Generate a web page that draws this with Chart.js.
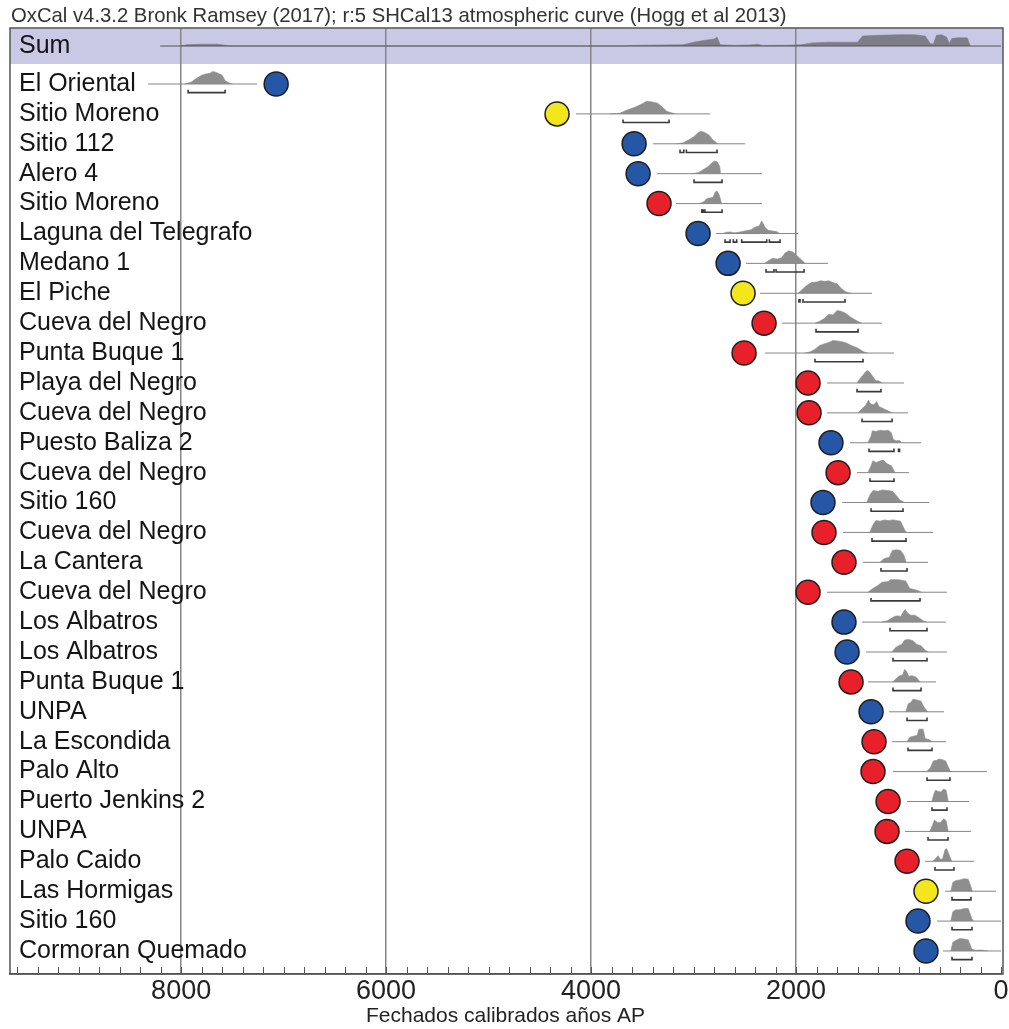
<!DOCTYPE html>
<html>
<head>
<meta charset="utf-8">
<script src="https://cdn.jsdelivr.net/npm/chart.js@4.4.1/dist/chart.umd.min.js"></script>
<style>
  html, body { margin: 0; padding: 0; background: #fff; }
  canvas { display: block; }
</style>
</head>
<body>
<canvas id="oxcal-chart" width="1009" height="1029"></canvas>
<script>
const titleText = 'OxCal v4.3.2 Bronk Ramsey (2017); r:5 SHCal13 atmospheric curve (Hogg et al 2013)';
const axisTitle = 'Fechados calibrados años AP';

const siteLabels = [
    'El Oriental', 'Sitio Moreno', 'Sitio 112', 'Alero 4', 'Sitio Moreno',
    'Laguna del Telegrafo', 'Medano 1', 'El Piche', 'Cueva del Negro', 'Punta Buque 1',
    'Playa del Negro', 'Cueva del Negro', 'Puesto Baliza 2', 'Cueva del Negro', 'Sitio 160',
    'Cueva del Negro', 'La Cantera', 'Cueva del Negro', 'Los Albatros', 'Los Albatros',
    'Punta Buque 1', 'UNPA', 'La Escondida', 'Palo Alto', 'Puerto Jenkins 2',
    'UNPA', 'Palo Caido', 'Las Hormigas', 'Sitio 160', 'Cormoran Quemado'
];

// circle markers (cal BP) and their colour group
const circleAge = [
    7073, 4332, 3580, 3541, 3337, 2956, 2663, 2517, 2312, 2507,
    1883, 1873, 1659, 1590, 1737, 1727, 1532, 1883, 1532, 1502,
    1463, 1268, 1239, 1249, 1102, 1112, 917, 732, 810, 732
];
const circleGroup = [
    'B', 'Y', 'B', 'B', 'R', 'B', 'B', 'Y', 'R', 'R',
    'R', 'R', 'B', 'R', 'B', 'R', 'R', 'R', 'B', 'B',
    'R', 'B', 'R', 'R', 'R', 'R', 'R', 'Y', 'B', 'B'
];

// thin line under each distribution (from, to)
const lineFrom = [
    8322, 4146, 3395, 3356, 3171, 2780, 2488, 2351, 2137, 2302,
    1698, 1698, 1473, 1405, 1551, 1541, 1346, 1698, 1356, 1317,
    1298, 1093, 1063, 1054, 917, 937, 741, 546, 624, 566
];
const lineTo = [
    7259, 2839, 2497, 2332, 2332, 1981, 1688, 1259, 1161, 1044,
    946, 907, 780, 898, 702, 663, 712, 527, 537, 527,
    634, 556, 537, 137, 312, 293, 263, 49, 0, 0
];

// 95.4% ranges drawn as brackets
const ranges = [
    [[7932, 7571]], [[3688, 3239]], [[3132, 3095], [3070, 2771]], [[2995, 2722]], [[2920, 2905], [2890, 2722]],
    [[2693, 2644], [2612, 2579], [2530, 2286], [2260, 2156]], [[2293, 2215], [2195, 1922]], [[1971, 1961], [1932, 1522]], [[1805, 1395]], [[1815, 1346]],
    [[1405, 1171]], [[1356, 1063]], [[1288, 1044], [1000, 990]], [[1278, 1044]], [[1268, 956]],
    [[1259, 927]], [[1171, 917]], [[1268, 790]], [[1083, 722]], [[1054, 722]],
    [[1054, 780]], [[917, 722]], [[907, 673]], [[722, 498]], [[673, 527]],
    [[712, 517]], [[644, 459]], [[478, 293]], [[478, 283]], [[478, 283]]
];

// probability profiles: [cal BP, relative height]
const profiles = [
    [[7965, 0], [7900, 0.15], [7850, 0.45], [7800, 0.7], [7760, 0.8], [7720, 0.85], [7690, 1], [7650, 0.9], [7600, 0.7], [7570, 0.25], [7530, 0.08], [7500, 0]],
    [[3815, 0], [3720, 0.05], [3650, 0.3], [3580, 0.5], [3500, 0.8], [3460, 1], [3400, 0.95], [3350, 0.85], [3300, 0.5], [3260, 0.2], [3200, 0.05], [3180, 0]],
    [[3165, 0], [3100, 0.08], [3050, 0.3], [3000, 0.55], [2960, 0.85], [2930, 1], [2890, 0.9], [2850, 0.7], [2810, 0.3], [2770, 0.05], [2760, 0]],
    [[3010, 0], [2950, 0.1], [2900, 0.35], [2860, 0.55], [2830, 0.8], [2800, 1], [2770, 0.95], [2745, 0.6], [2735, 0]],
    [[2940, 0], [2900, 0.15], [2870, 0.4], [2840, 0.45], [2810, 0.5], [2790, 0.9], [2770, 1], [2750, 0.7], [2730, 0.1], [2720, 0]],
    [[2712, 0], [2680, 0.1], [2640, 0.12], [2600, 0.05], [2560, 0.1], [2500, 0.2], [2440, 0.3], [2400, 0.5], [2360, 0.6], [2335, 1], [2300, 0.45], [2270, 0.25], [2230, 0.2], [2190, 0.15], [2160, 0]],
    [[2305, 0], [2270, 0.2], [2230, 0.4], [2180, 0.35], [2140, 0.45], [2110, 0.8], [2070, 1], [2030, 0.9], [1990, 0.6], [1950, 0.3], [1912, 0]],
    [[1980, 0], [1940, 0.3], [1900, 0.6], [1850, 0.85], [1800, 0.9], [1760, 1], [1720, 0.95], [1680, 1], [1640, 0.85], [1600, 0.75], [1560, 0.4], [1520, 0.15], [1490, 0.05], [1460, 0]],
    [[1815, 0], [1770, 0.15], [1720, 0.4], [1680, 0.7], [1640, 0.65], [1600, 1], [1560, 0.95], [1520, 0.8], [1470, 0.5], [1420, 0.25], [1380, 0.08], [1356, 0]],
    [[1915, 0], [1860, 0.1], [1815, 0.3], [1770, 0.6], [1720, 0.75], [1680, 0.85], [1640, 1], [1580, 0.95], [1520, 0.85], [1460, 0.6], [1400, 0.4], [1340, 0.1], [1300, 0]],
    [[1405, 0], [1380, 0.3], [1350, 0.6], [1320, 0.9], [1300, 1], [1280, 0.85], [1250, 0.5], [1220, 0.15], [1200, 0.2], [1170, 0.05], [1160, 0]],
    [[1395, 0], [1360, 0.3], [1320, 0.6], [1295, 1], [1270, 0.7], [1240, 0.65], [1215, 0.9], [1190, 0.5], [1150, 0.35], [1100, 0.15], [1060, 0]],
    [[1300, 0], [1270, 0.5], [1255, 0.95], [1220, 0.9], [1180, 1], [1140, 0.95], [1100, 1], [1070, 0.8], [1050, 0.25], [1020, 0.15], [990, 0.2], [970, 0]],
    [[1300, 0], [1270, 0.5], [1250, 0.95], [1220, 0.8], [1190, 0.9], [1150, 1], [1110, 0.7], [1070, 0.55], [1040, 0.1], [1034, 0]],
    [[1310, 0], [1280, 0.6], [1250, 0.95], [1200, 0.9], [1160, 1], [1100, 0.95], [1060, 0.9], [1020, 0.55], [985, 0.2], [940, 0]],
    [[1280, 0], [1250, 0.6], [1220, 0.95], [1180, 0.9], [1140, 1], [1100, 0.95], [1050, 1], [980, 0.9], [940, 0.2], [920, 0]],
    [[1180, 0], [1150, 0.25], [1120, 0.35], [1090, 0.4], [1060, 0.95], [1020, 1], [980, 0.95], [950, 0.6], [925, 0]],
    [[1300, 0], [1250, 0.3], [1200, 0.55], [1160, 0.8], [1100, 0.85], [1080, 1], [1000, 1], [930, 0.9], [890, 0.3], [840, 0.2], [800, 0.1], [775, 0]],
    [[1165, 0], [1110, 0.1], [1080, 0.25], [1040, 0.45], [1010, 0.5], [980, 0.45], [950, 0.85], [935, 1], [910, 0.7], [880, 0.55], [840, 0.55], [800, 0.35], [760, 0.1], [725, 0]],
    [[1065, 0], [1030, 0.35], [1000, 0.5], [970, 0.6], [940, 0.95], [900, 1], [860, 0.9], [820, 0.6], [780, 0.5], [740, 0.15], [710, 0]],
    [[1055, 0], [1020, 0.3], [990, 0.5], [960, 0.55], [940, 1], [920, 0.8], [900, 0.45], [870, 0.5], [830, 0.4], [800, 0.1], [790, 0]],
    [[930, 0], [905, 0.65], [880, 0.75], [860, 1], [820, 0.95], [780, 0.85], [755, 0.4], [715, 0]],
    [[917, 0], [890, 0.35], [850, 0.45], [820, 0.5], [800, 1], [760, 1], [740, 0.25], [700, 0.15], [673, 0]],
    [[725, 0], [690, 0.3], [660, 0.85], [630, 0.9], [600, 1], [570, 0.95], [540, 0.85], [510, 0.3], [495, 0]],
    [[675, 0], [655, 0.6], [640, 0.9], [610, 0.8], [585, 0.75], [560, 1], [535, 0.9], [515, 0]],
    [[695, 0], [670, 0.45], [650, 0.9], [620, 0.7], [590, 0.7], [560, 1], [535, 0.85], [515, 0]],
    [[665, 0], [635, 0.25], [615, 0.45], [590, 0.15], [570, 0.2], [545, 0.95], [530, 1], [505, 0.5], [480, 0]],
    [[490, 0], [470, 0.7], [440, 0.85], [400, 0.9], [360, 1], [320, 0.95], [290, 0.3], [280, 0]],
    [[490, 0], [470, 0.75], [440, 0.9], [400, 0.9], [360, 1], [320, 1], [285, 0.2], [270, 0]],
    [[490, 0], [470, 0.7], [440, 0.85], [400, 1], [360, 0.95], [320, 0.9], [285, 0.15], [250, 0.05], [200, 0.08], [150, 0.03], [130, 0]]
];

// summed probability at the top
const sumProfile = [
    [8000, 0], [7950, 0.1], [7800, 0.15], [7650, 0.15], [7550, 0.05], [7500, 0],
    [3700, 0], [3600, 0.05], [3300, 0.08], [3100, 0.1], [3000, 0.3], [2900, 0.45], [2800, 0.55], [2770, 0.7], [2740, 0.1],
    [2600, 0.05], [2450, 0.08], [2380, 0.15], [2330, 0.05], [2100, 0.06], [1950, 0.1], [1840, 0.25], [1700, 0.3], [1400, 0.3],
    [1350, 0.8], [1200, 0.85], [1000, 0.9], [850, 0.9], [740, 0.8], [690, 0.2], [660, 0.15], [630, 0.85], [580, 0.9],
    [530, 0.7], [505, 0.2], [480, 0.6], [420, 0.65], [330, 0.65], [300, 0]
];
const sumLine = [8205, 0];

const palette = { B: '#2656a6', R: '#e8202a', Y: '#f3e61a' };
const FONT = "'Liberation Sans', Arial, sans-serif";
const SUM_ROW = -1.27;
const PEAK = 0.42;      // row units for a relative height of 1
const X_MAX = 9670;

document.addEventListener('DOMContentLoaded', () => {
    const ctx = document.getElementById('oxcal-chart').getContext('2d');

    const datasets = [];

    // circles on top
    datasets.push({
        type: 'scatter',
        data: circleAge.map((a, i) => ({ x: a, y: i })),
        pointRadius: 12,
        pointBackgroundColor: circleGroup.map(g => palette[g]),
        pointBorderColor: '#1e1e1e',
        pointBorderWidth: 1.5,
        order: 0
    });

    // brackets, all in one dataset with gaps
    const bracketPts = [];
    ranges.forEach((rs, i) => {
        rs.forEach(([a, b]) => {
            bracketPts.push({ x: a, y: i + 0.19 }, { x: a, y: i + 0.29 }, { x: b, y: i + 0.29 }, { x: b, y: i + 0.19 }, { x: b, y: null });
        });
    });
    datasets.push({
        type: 'line', data: bracketPts, borderColor: '#3a3a3a', borderWidth: 1.6,
        pointRadius: 0, spanGaps: false, fill: false, order: 1
    });

    // baselines
    const basePts = [];
    siteLabels.forEach((_, i) => {
        basePts.push({ x: lineFrom[i], y: i }, { x: lineTo[i], y: i }, { x: lineTo[i], y: null });
    });
    datasets.push({
        type: 'line', data: basePts, borderColor: '#858585', borderWidth: 1,
        pointRadius: 0, spanGaps: false, fill: false, order: 2
    });
    datasets.push({
        type: 'line', data: [{ x: sumLine[0], y: SUM_ROW }, { x: sumLine[1], y: SUM_ROW }],
        borderColor: '#555', borderWidth: 1, pointRadius: 0, fill: false, order: 2
    });

    // distributions
    profiles.forEach((p, i) => {
        datasets.push({
            type: 'line',
            data: p.map(([x, h]) => ({ x: x, y: i - h * PEAK })),
            fill: { value: i },
            backgroundColor: '#8e8e8e',
            borderColor: '#8e8e8e',
            borderWidth: 0.6,
            pointRadius: 0,
            order: 3
        });
    });
    datasets.push({
        type: 'line',
        data: sumProfile.map(([x, h]) => ({ x: x, y: SUM_ROW - h * PEAK })),
        fill: { value: SUM_ROW },
        backgroundColor: '#7e7e86',
        borderColor: '#7e7e86',
        borderWidth: 0.6,
        pointRadius: 0,
        order: 3
    });

    const oxcalDecor = {
        id: 'oxcalDecor',
        beforeDraw(chart) {
            const { ctx, chartArea } = chart;
            const ys = chart.scales.y;
            ctx.save();
            ctx.fillStyle = '#c9c9e6';
            const bTop = chartArea.top;
            const bBot = ys.getPixelForValue(-0.67);
            ctx.fillRect(chartArea.left, bTop, chartArea.right - chartArea.left + 2, bBot - bTop);
            ctx.restore();
        },
        afterDraw(chart) {
            const { ctx, chartArea } = chart;
            const xs = chart.scales.x;
            const ys = chart.scales.y;
            ctx.save();
            // minor ticks inside the frame
            ctx.strokeStyle = '#555';
            ctx.lineWidth = 1;
            for (let v = 0; v <= 9600; v += 200) {
                const px = Math.round(xs.getPixelForValue(v)) + 0.5;
                ctx.beginPath();
                ctx.moveTo(px, chartArea.bottom);
                ctx.lineTo(px, chartArea.bottom - 7);
                ctx.stroke();
            }
            // frame
            ctx.strokeStyle = '#555';
            ctx.lineWidth = 1.5;
            ctx.strokeRect(chartArea.left, chartArea.top, chartArea.right - chartArea.left + 2, chartArea.bottom - chartArea.top);
            // row labels
            ctx.fillStyle = '#151515';
            ctx.font = '25px ' + FONT;
            ctx.textBaseline = 'middle';
            ctx.textAlign = 'left';
            ctx.fillText('Sum', chartArea.left + 9, ys.getPixelForValue(SUM_ROW));
            siteLabels.forEach((s, i) => {
                ctx.fillText(s, chartArea.left + 9, ys.getPixelForValue(i));
            });
            // header
            ctx.fillStyle = '#333';
            ctx.font = '20.3px ' + FONT;
            ctx.fillText(titleText, 11, 16);
            ctx.restore();
        }
    };

    new Chart(ctx, {
        type: 'scatter',
        data: { datasets: datasets },
        options: {
            responsive: false,
            devicePixelRatio: 1,
            animation: false,
            layout: { autoPadding: false, padding: { top: 28, left: 10, right: 8, bottom: 0 } },
            plugins: { legend: { display: false }, tooltip: { enabled: false } },
            elements: { line: { tension: 0 } },
            scales: {
                x: {
                    type: 'linear',
                    min: 0,
                    max: X_MAX,
                    reverse: true,
                    afterFit: scale => {
                        scale.paddingLeft = 0;
                        scale.paddingRight = 0;
                        scale.height = 55;
                    },
                    ticks: {
                        stepSize: 200,
                        autoSkip: false,
                        maxRotation: 0,
                        padding: 4.7,
                        color: '#222',
                        font: { family: FONT, size: 27, lineHeight: 0.95 },
                        callback: v => (v % 2000 === 0 && v <= 8000) ? String(v) : ''
                    },
                    grid: {
                        drawTicks: false,
                        lineWidth: 1.5,
                        color: c => (c.tick && c.tick.value % 2000 === 0 && c.tick.value > 0 && c.tick.value < 9000) ? '#858585' : 'rgba(0,0,0,0)'
                    },
                    border: { display: true, color: '#555', width: 1.5 },
                    title: {
                        display: true,
                        text: axisTitle,
                        color: '#222',
                        font: { family: FONT, size: 21, lineHeight: 0.9 },
                        padding: { top: 0, bottom: 3.5 }
                    }
                },
                y: {
                    type: 'linear',
                    display: false,
                    min: -1.873,
                    max: 29.77,
                    reverse: true
                }
            }
        },
        plugins: [oxcalDecor]
    });
});
</script>
</body>
</html>
